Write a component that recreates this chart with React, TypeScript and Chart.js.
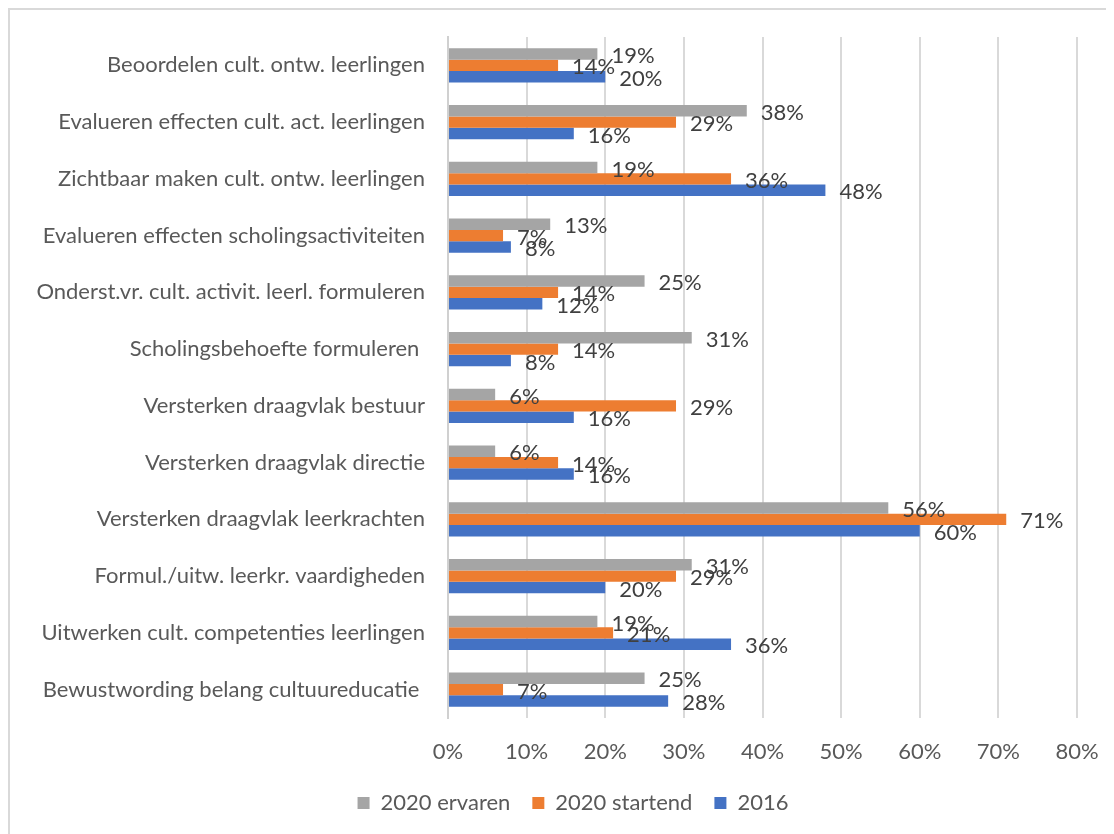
import React, { useEffect, useRef } from "react";
import { Chart, registerables } from "chart.js";

Chart.register(...registerables);

const categories = [
  "Beoordelen cult. ontw. leerlingen",
  "Evalueren effecten cult. act. leerlingen",
  "Zichtbaar maken cult. ontw. leerlingen",
  "Evalueren effecten scholingsactiviteiten",
  "Onderst.vr. cult. activit. leerl. formuleren",
  "Scholingsbehoefte formuleren ",
  "Versterken draagvlak bestuur",
  "Versterken draagvlak directie",
  "Versterken draagvlak leerkrachten",
  "Formul./uitw. leerkr. vaardigheden",
  "Uitwerken cult. competenties leerlingen",
  "Bewustwording belang cultuureducatie ",
];

const seriesNames = ["2020 ervaren", "2020 startend", "2016"];
const ervaren2020 = [19, 38, 19, 13, 25, 31, 6, 6, 56, 31, 19, 25];
const startend2020 = [14, 29, 36, 7, 14, 14, 29, 14, 71, 29, 21, 7];
const values2016 = [20, 16, 48, 8, 12, 8, 16, 16, 60, 20, 36, 28];
const xTicks = [0, 10, 20, 30, 40, 50, 60, 70, 80];

const FONT = "Lato";
const FS = 22;

const labelPlugin = {
  id: "barValueLabels",
  beforeDraw(chart: any) {
    const lg = chart.legend;
    if (lg && !lg._shifted) {
      lg.left += 29.5;
      lg.right += 29.5;
      lg._shifted = true;
    }
  },
  afterDatasetsDraw(chart: any) {
    const ctx = chart.ctx;
    ctx.save();
    ctx.font = `${FS}px ${FONT}`;
    ctx.fillStyle = "#404040";
    ctx.textAlign = "left";
    ctx.textBaseline = "middle";
    chart.data.datasets.forEach((ds: any, di: number) => {
      const meta = chart.getDatasetMeta(di);
      meta.data.forEach((el: any, i: number) => {
        ctx.fillText(`${ds.data[i]}%`, el.x + 14, el.y + 2);
      });
    });
    ctx.restore();
  },
};

export default function App() {
  const ref = useRef<HTMLCanvasElement | null>(null);

  useEffect(() => {
    if (!ref.current) return;
    const chart = new Chart(ref.current, {
      type: "bar",
      data: {
        labels: categories,
        datasets: [
          { label: seriesNames[0], data: ervaren2020, backgroundColor: "#A5A5A5" },
          { label: seriesNames[1], data: startend2020, backgroundColor: "#ED7D31" },
          { label: seriesNames[2], data: values2016, backgroundColor: "#4472C4" },
        ],
      },
      options: {
        indexAxis: "y",
        responsive: false,
        animation: false,
        devicePixelRatio: 1,
        datasets: {
          bar: { categoryPercentage: 0.6, barPercentage: 1.0, borderWidth: 0 },
        },
        layout: { padding: { left: 0, right: 59, top: 27, bottom: 26 } },
        scales: {
          x: {
            min: 0,
            max: 80,
            afterBuildTicks: (scale: any) => {
              scale.ticks = xTicks.map((v) => ({ value: v }));
            },
            afterFit: (scale: any) => {
              scale.height = 52;
            },
            grid: { color: "#d9d9d9", lineWidth: 2, drawTicks: false },
            border: { display: false },
            ticks: {
              padding: 21,
              color: "#595959",
              font: { family: FONT, size: FS },
              callback: (v: any) => `${v}%`,
            },
          },
          y: {
            afterFit: (scale: any) => {
              scale.width = 438;
              scale.paddingTop = 0;
              scale.paddingBottom = 0;
            },
            grid: { display: false, drawTicks: false },
            border: { display: true, color: "#d0d0d0", width: 2 },
            ticks: {
              padding: 23,
              color: "#595959",
              font: { family: FONT, size: FS },
              autoSkip: false,
            },
          },
        },
        plugins: {
          legend: {
            position: "bottom",
            labels: {
              boxWidth: 12,
              boxHeight: 12,
              padding: 22,
              color: "#595959",
              font: { family: FONT, size: FS },
            },
          },
          tooltip: { enabled: false },
        },
      },
      plugins: [labelPlugin],
    });
    return () => chart.destroy();
  }, []);

  return (
    <div style={{ width: 1106, height: 826, overflow: "hidden" }}>
      <div style={{ width: 1126, height: 840, border: "2px solid #d9d9d9" }}>
        <canvas ref={ref} width={1126} height={840} style={{ display: "block" }} />
      </div>
    </div>
  );
}
